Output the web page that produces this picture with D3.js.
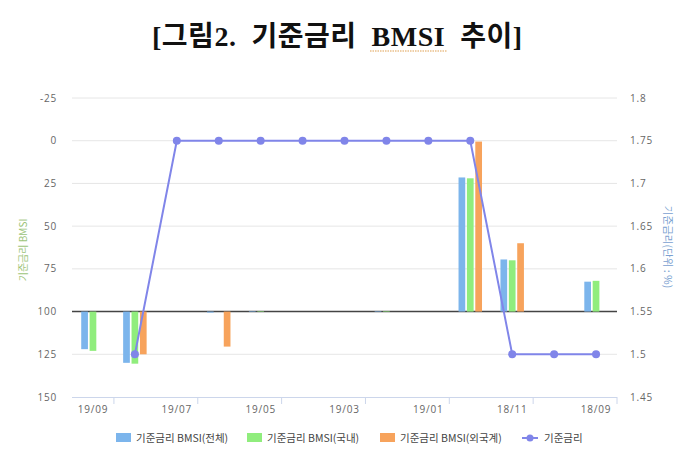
<!DOCTYPE html>
<html><head><meta charset="utf-8">
<script src="https://cdn.jsdelivr.net/npm/d3@7"></script>
<style>
html,body{margin:0;padding:0;background:#fff;}
svg{display:block;}
</style></head>
<body>
<svg id="chart" width="700" height="454"></svg>
<script>
const months = ["19/09","19/08","19/07","19/06","19/05","19/04","19/03","19/02","19/01","18/12","18/11","18/10","18/09"];
const bmsiTotal    = [122, 130, 100, 100.6, 99.7, 100, 100, 99.7, 100, 21.5, 69.5, 100, 82.5];
const bmsiDomestic = [123, 130.5, 100, 100, 99.7, 100, 100, 99.7, 100, 22, 70, 100, 82];
const bmsiForeign  = [100, 125, 100, 120.5, 100, 100, 100, 100, 100, 0.5, 60, 100, 100];
const baseRate     = [null, 1.5, 1.75, 1.75, 1.75, 1.75, 1.75, 1.75, 1.75, 1.75, 1.5, 1.5, 1.5];
const leftTicks  = [-25, 0, 25, 50, 75, 100, 125, 150];
const rightTicks = [1.45, 1.5, 1.55, 1.6, 1.65, 1.7, 1.75, 1.8];
const xLabels = ["19/09","19/07","19/05","19/03","19/01","18/11","18/09"];
const seriesNames = ["기준금리 BMSI(전체)","기준금리 BMSI(국내)","기준금리 BMSI(외국계)","기준금리"];
const colors = ["#7cb5ec","#90ed7d","#f7a35c","#8085e9"];

const svg = d3.select("#chart");
const L = 72, R = 617, T = 98, B = 397;

const x = d3.scaleBand().domain(months).range([L, R]).padding(0);
const yL = d3.scaleLinear().domain([-25, 150]).range([T, B]);
const yR = d3.scaleLinear().domain([1.45, 1.8]).range([B, T]);

// title
svg.append("text")
  .attr("x", 337).attr("y", 46)
  .attr("text-anchor", "middle")
  .attr("font-family", "'Liberation Serif','Noto Sans CJK KR',serif")
  .attr("font-weight", "bold")
  .attr("font-size", 28)
  .attr("fill", "#111")
  .attr("xml:space","preserve")
  .attr("textLength", 370).attr("lengthAdjust", "spacing")
  .text("[그림2.  기준금리  BMSI  추이]");
// spell-check style dotted underline under BMSI
svg.append("line").attr("x1", 370).attr("x2", 447).attr("y1", 51).attr("y2", 51)
  .attr("stroke", "#e0a050").attr("stroke-width", 1.2).attr("stroke-dasharray", "1.5,1");

// gridlines
svg.append("g").selectAll("line").data(leftTicks.filter(d => d !== 150)).join("line")
  .attr("x1", L).attr("x2", R)
  .attr("y1", d => yL(d)).attr("y2", d => yL(d))
  .attr("stroke", "#e6e6e6").attr("stroke-width", 1);

// bottom axis line
svg.append("line").attr("x1", L).attr("x2", R).attr("y1", B + 0.5).attr("y2", B + 0.5)
  .attr("stroke", "#ccd6eb").attr("stroke-width", 1);

// x ticks at every other band boundary
const tickBounds = d3.range(1, months.length + 1, 2).map(i => L + i * x.step());
svg.append("g").selectAll("line").data(tickBounds).join("line")
  .attr("x1", d => d).attr("x2", d => d).attr("y1", B).attr("y2", B + 7)
  .attr("stroke", "#ccd6eb");

const axisFont = "'Open Sans','DejaVu Sans',sans-serif";
svg.append("g").selectAll("text").data(xLabels).join("text")
  .attr("x", d => x(d) + x.bandwidth() / 2).attr("y", 413)
  .attr("text-anchor", "middle")
  .attr("font-family", axisFont).attr("font-size", 10).attr("letter-spacing", 0.8)
  .attr("fill", "#666").text(d => d);

// left axis labels
svg.append("g").selectAll("text").data(leftTicks).join("text")
  .attr("x", 57).attr("y", d => yL(d) + 3.5)
  .attr("text-anchor", "end")
  .attr("font-family", axisFont).attr("font-size", 10).attr("letter-spacing", 0.8)
  .attr("fill", "#666").text(d => d);

// right axis labels
svg.append("g").selectAll("text").data(rightTicks).join("text")
  .attr("x", 630).attr("y", d => yR(d) + 3.5)
  .attr("text-anchor", "start")
  .attr("font-family", axisFont).attr("font-size", 10).attr("letter-spacing", 0.8)
  .attr("fill", "#666").text(d => d);

// axis titles
svg.append("text").attr("transform", "translate(27,250) rotate(-90)")
  .attr("text-anchor", "middle")
  .attr("font-family", "'Noto Sans CJK KR',sans-serif").attr("font-size", 10)
  .attr("fill", "#9cc47a").text("기준금리 BMSI");
svg.append("text").attr("transform", "translate(664,247) rotate(90)")
  .attr("text-anchor", "middle")
  .attr("font-family", "'Noto Sans CJK KR',sans-serif").attr("font-size", 10.5)
  .attr("fill", "#7a9fd0").text("기준금리(단위 : %)");

// threshold line at 100
svg.append("line").attr("x1", L).attr("x2", R).attr("y1", yL(100)).attr("y2", yL(100))
  .attr("stroke", "#444").attr("stroke-width", 1.5);

// bars
const group = x.bandwidth() * 0.6;
const slot = group / 3;
const barW = slot * 0.8;
const barSeries = [bmsiTotal, bmsiDomestic, bmsiForeign];
barSeries.forEach((vals, s) => {
  svg.append("g").selectAll("rect").data(vals.map((v, i) => ({v, m: months[i]}))).join("rect")
    .attr("x", d => x(d.m) + x.bandwidth() * 0.2 + s * slot + slot * 0.1)
    .attr("width", barW)
    .attr("y", d => Math.min(yL(d.v), yL(100)))
    .attr("height", d => Math.abs(yL(d.v) - yL(100)))
    .attr("fill", colors[s]);
});

// line
const pts = baseRate.map((v, i) => ({v, m: months[i]}));
const line = d3.line().defined(d => d.v !== null)
  .x(d => x(d.m) + x.bandwidth() / 2).y(d => yR(d.v));
svg.append("path").datum(pts).attr("d", line)
  .attr("fill", "none").attr("stroke", colors[3]).attr("stroke-width", 2);
svg.append("g").selectAll("circle").data(pts.filter(d => d.v !== null)).join("circle")
  .attr("cx", d => x(d.m) + x.bandwidth() / 2).attr("cy", d => yR(d.v))
  .attr("r", 4).attr("fill", colors[3]);

// legend
const legX = [116, 247, 380, 522];
const lg = svg.append("g");
seriesNames.forEach((name, i) => {
  if (i < 3) {
    lg.append("rect").attr("x", legX[i]).attr("y", 433).attr("width", 15).attr("height", 9)
      .attr("fill", colors[i]);
  } else {
    lg.append("line").attr("x1", legX[i]).attr("x2", legX[i] + 16).attr("y1", 438).attr("y2", 438)
      .attr("stroke", colors[3]).attr("stroke-width", 2);
    lg.append("circle").attr("cx", legX[i] + 8).attr("cy", 438).attr("r", 3.5).attr("fill", colors[3]);
  }
  lg.append("text").attr("x", legX[i] + (i < 3 ? 20 : 22)).attr("y", 441.5)
    .attr("font-family", "'Noto Sans CJK KR',sans-serif").attr("font-size", 10.5)
    .attr("fill", "#444").text(name);
});
</script>
</body></html>
